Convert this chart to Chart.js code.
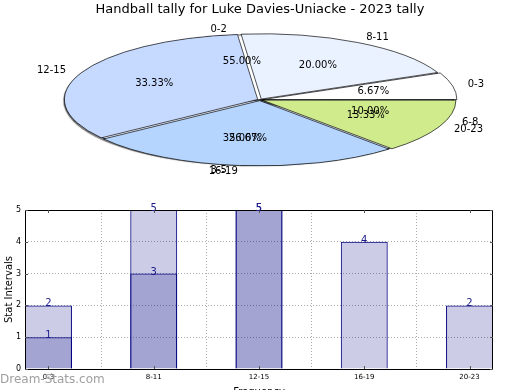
<!DOCTYPE html>
<html>
<head>
<meta charset="utf-8">
<script src="https://cdn.jsdelivr.net/npm/chart.js@4"></script>
<style>
  html, body { margin: 0; padding: 0; background: #fff; overflow: hidden; }
  body { width: 520px; height: 390px; position: relative; font-family: 'DejaVu Sans', sans-serif; }
  #pie-chart { position: absolute; left: 0; top: 0; }
  #bar-chart { position: absolute; left: 0; top: 195px; }
  #watermark { position: absolute; left: 0; top: 372px; font-size: 12px; color: #a0a0a0; }
</style>
</head>
<body>
<canvas id="pie-chart" width="520" height="195"></canvas>
<canvas id="bar-chart" width="520" height="203"></canvas>
<div id="watermark">Dream-Stats.com</div>
<script>
const chartTitle = 'Handball tally for Luke Davies-Uniacke - 2023 tally';

// pie drawn in front
const frontLabels = ['0-3', '8-11', '12-15', '16-19', '20-23'];
const frontValues = [1, 3, 5, 4, 2];
const frontColors = ['#ffffff', '#eaf1ff', '#c6d9ff', '#b5d5ff', '#d0eb8c'];

// pie hidden behind it
const backLabels = ['0-2', '3-5', '6-8'];
const backValues = [11, 7, 2];
const backColors = ['#ffffff', '#e6edfc', '#ffffff'];

// bars
const categories = ['0-3', '8-11', '12-15', '16-19', '20-23'];
const totalValues = [2, 5, 5, 4, 2];
const partValues = [1, 3, 5, null, null];

const squash = 0.338;

// make both pies full size and overlapping, squashed into an ellipse
const overlapPies = {
  id: 'overlapPies',
  afterDatasetsUpdate(chart) {
    const area = chart.chartArea;
    const r = (area.right - area.left) / 2 - 2;
    chart.data.datasets.forEach((ds, i) => {
      chart.getDatasetMeta(i).data.forEach(arc => {
        arc.outerRadius = r;
        arc.innerRadius = 0;
      });
    });
  },
  beforeDatasetsDraw(chart) {
    const ctx = chart.ctx;
    const arc = chart.getDatasetMeta(0).data[0];
    ctx.save();
    ctx.translate(arc.x, arc.y);
    ctx.scale(1, -squash);
    ctx.translate(-arc.x, -arc.y);
  },
  beforeDatasetDraw(chart, args) {
    if (args.index === 1) {
      const ctx = chart.ctx;
      ctx.shadowColor = 'rgba(0,0,0,0.5)';
      ctx.shadowOffsetX = -3;
      ctx.shadowOffsetY = 1;
      ctx.shadowBlur = 1;
    }
  },
  afterDatasetDraw(chart, args) {
    if (args.index === 1) {
      const ctx = chart.ctx;
      ctx.shadowColor = 'rgba(0,0,0,0)';
      ctx.shadowOffsetX = 0;
      ctx.shadowOffsetY = 0;
      ctx.shadowBlur = 0;
    }
  },
  afterDatasetsDraw(chart) {
    chart.ctx.restore();
  },
  afterDraw(chart) {
    const ctx = chart.ctx;
    ctx.save();
    ctx.font = '10px "DejaVu Sans"';
    ctx.fillStyle = '#000';
    ctx.textBaseline = 'middle';
    [1, 0].forEach(i => {
      const ds = chart.data.datasets[i];
      const total = ds.data.reduce((a, b) => a + b, 0);
      chart.getDatasetMeta(i).data.forEach((arc, j) => {
        const mid = (arc.startAngle + arc.endAngle) / 2;
        const r = arc.outerRadius;
        const c = Math.cos(mid), s = Math.sin(mid);
        ctx.textAlign = c >= 0 ? 'left' : 'right';
        ctx.fillText(ds.labels[j], arc.x + c * r * 1.1, arc.y - s * r * 1.1 * squash);
        ctx.textAlign = 'center';
        const pct = (ds.data[j] / total * 100).toFixed(2) + '%';
        ctx.fillText(pct, arc.x + c * r * 0.6, arc.y - s * r * 0.6 * squash);
      });
    });
    ctx.restore();
  }
};

new Chart(document.getElementById('pie-chart').getContext('2d'), {
  type: 'pie',
  data: {
    labels: frontLabels,
    datasets: [
      { labels: frontLabels, data: frontValues, backgroundColor: frontColors, borderColor: '#000', borderWidth: 1, offset: 10, clip: false },
      { labels: backLabels, data: backValues, backgroundColor: backColors, borderColor: '#000', borderWidth: 1.5, offset: 0, clip: false }
    ]
  },
  options: {
    responsive: false,
    animation: false,
    rotation: 90,
    layout: { padding: { left: 65, right: 65, bottom: 17 } },
    plugins: {
      legend: { display: false },
      tooltip: { enabled: false },
      title: {
        display: true,
        text: chartTitle,
        color: '#000',
        font: { family: 'DejaVu Sans', size: 13, weight: 'normal' },
        padding: { top: 2, bottom: 4 }
      }
    }
  },
  plugins: [overlapPies]
});

// frame, inner tick marks and value labels for the bar plot
const barExtras = {
  id: 'barExtras',
  afterDatasetsDraw(chart) {
    const ctx = chart.ctx;
    const area = chart.chartArea;
    const xs = chart.scales.x, ys = chart.scales.y;
    ctx.save();
    ctx.strokeStyle = '#000';
    ctx.lineWidth = 1;
    ctx.strokeRect(area.left + 0.5, area.top + 0.5, area.right - area.left - 1, area.bottom - area.top);
    ctx.beginPath();
    ys.ticks.forEach(t => {
      const y = Math.round(ys.getPixelForValue(t.value)) + 0.5;
      ctx.moveTo(area.left, y); ctx.lineTo(area.left + 3, y);
      ctx.moveTo(area.right, y); ctx.lineTo(area.right - 3, y);
    });
    xs.ticks.forEach(t => {
      const x = Math.round(xs.getPixelForValue(t.value)) + 0.5;
      ctx.moveTo(x, area.bottom); ctx.lineTo(x, area.bottom - 3);
      ctx.moveTo(x, area.top); ctx.lineTo(x, area.top + 3);
    });
    ctx.strokeStyle = '#555';
    ctx.stroke();

    ctx.font = '10px "DejaVu Sans"';
    ctx.fillStyle = '#1c1c8c';
    ctx.textAlign = 'center';
    ctx.textBaseline = 'alphabetic';
    chart.data.datasets.forEach((ds, i) => {
      chart.getDatasetMeta(i).data.forEach((bar, j) => {
        const v = ds.data[j].y;
        if (v === null) return;
        ctx.fillText(v, bar.x, bar.y + 1);
      });
    });
    ctx.restore();
  }
};

const gridStyle = { color: '#aaaaaa', lineWidth: 1, drawTicks: false };

new Chart(document.getElementById('bar-chart').getContext('2d'), {
  type: 'bar',
  data: {
    datasets: [
      {
        data: partValues.map((v, i) => ({ x: i, y: v })),
        backgroundColor: 'rgba(0,0,128,0.2)',
        borderColor: '#000080',
        borderWidth: 1,
        grouped: false
      },
      {
        data: totalValues.map((v, i) => ({ x: i, y: v })),
        backgroundColor: 'rgba(0,0,128,0.2)',
        borderColor: '#000080',
        borderWidth: 1,
        grouped: false
      }
    ]
  },
  options: {
    responsive: false,
    animation: false,
    barPercentage: 0.446,
    categoryPercentage: 1,
    layout: { padding: { top: 15, right: 27, left: 0, bottom: 0 } },
    plugins: { legend: { display: false }, tooltip: { enabled: false } },
    scales: {
      x: {
        type: 'linear',
        offset: false,
        min: -0.223,
        max: 4.223,
        afterBuildTicks: scale => { scale.ticks = categories.map((c, i) => ({ value: i })); },
        afterFit: scale => { scale.height = 29; },
        ticks: {
          callback: v => categories[v],
          color: '#000',
          font: { family: 'DejaVu Sans', size: 7 },
          padding: 4,
          maxRotation: 0,
          autoSkip: false
        },
        grid: gridStyle,
        border: { display: false, dash: [1, 2] },
        title: { display: true, text: 'Frequency', color: '#000', font: { family: 'DejaVu Sans', size: 10 }, padding: { top: 1, bottom: 0 } }
      },
      y: {
        min: 0,
        max: 5,
        afterFit: scale => { scale.width = 25; },
        ticks: { stepSize: 1, color: '#000', font: { family: 'DejaVu Sans', size: 8 }, padding: 4 },
        grid: gridStyle,
        border: { display: false, dash: [1, 2] },
        title: { display: true, text: 'Stat Intervals', color: '#000', font: { family: 'DejaVu Sans', size: 10 }, padding: { top: 3, bottom: 0 } }
      }
    }
  },
  plugins: [barExtras]
});
</script>
</body>
</html>
